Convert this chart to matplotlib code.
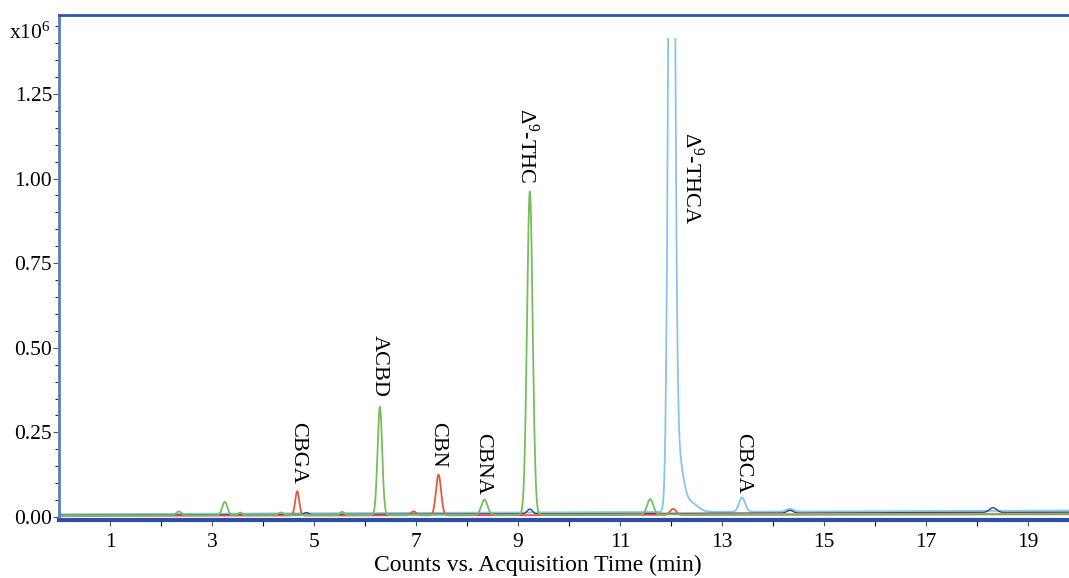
import numpy as np
import matplotlib
matplotlib.use("Agg")
import matplotlib.pyplot as plt
from matplotlib.patches import Rectangle
from matplotlib.ticker import MultipleLocator, FixedLocator

plt.rcParams['font.family'] = ['Liberation Serif', 'DejaVu Serif']
plt.rcParams['mathtext.fontset'] = 'custom'
plt.rcParams['mathtext.rm'] = 'Liberation Serif'
plt.rcParams['mathtext.it'] = 'Liberation Serif'

# ---- data (x10^6 counts, minutes) ----
green_rt = [2.35, 3.25, 3.55, 4.35, 5.55, 6.29, 8.34, 9.23, 11.59]
green_h = [0.012, 0.040, 0.008, 0.008, 0.010, 0.320, 0.045, 0.955, 0.045]
green_w = [0.05, 0.05, 0.04, 0.05, 0.04, 0.045, 0.06, 0.055, 0.06]

red_rt = [4.67, 6.95, 7.44, 12.04]
red_h = [0.072, 0.012, 0.120, 0.018]
red_w = [0.04, 0.05, 0.05, 0.06]

blue_rt = [12.01, 12.14, 12.35, 13.39, 14.33]
blue_h = [3.00, 0.150, 0.030, 0.042, 0.008]
blue_w = [0.055, 0.09, 0.15, 0.06, 0.07]

navy_rt = [4.85, 9.23, 14.33, 18.31]
navy_h = [0.006, 0.014, 0.008, 0.014]
navy_w = [0.04, 0.05, 0.06, 0.07]

baseline_t = [0.0, 19.8]
baseline_green = [0.004, 0.010]
baseline_red = [0.003, 0.008]
baseline_blue = [0.008, 0.019]
baseline_navy = [0.005, 0.014]

labels = ['CBGA', 'ACBD', 'CBN', 'CBNA', 'Δ$^9$-THC', 'Δ$^9$-THCA', 'CBCA']
label_x = [4.67, 6.27, 7.43, 8.30, 9.18, 12.41, 13.41]
label_y = [0.281, 0.538, 0.281, 0.248, 1.209, 1.138, 0.248]

y_ticks = [0.00, 0.25, 0.50, 0.75, 1.00, 1.25]
y_ticklabels = ['0.00', '0.25', '0.50', '0.75', '1.00', '1.25']
x_ticks = [1, 3, 5, 7, 9, 11, 13, 15, 17, 19]

t = np.linspace(0, 19.8, 8000)

def trace(rts, hs, ws, base):
    y = np.interp(t, baseline_t, base)
    for r, h, w in zip(rts, hs, ws):
        y = y + h * np.exp(-0.5 * ((t - r) / w) ** 2)
    return y

fig = plt.figure(figsize=(10.69, 5.78), dpi=100)
ax = fig.add_axes([0.0552, 0.1003, 0.9448, 0.8737])
ax.set_xlim(0, 19.8)
ax.set_ylim(-0.009, 1.483)

clip = Rectangle((0, -0.009), 19.8, 1.424, transform=ax.transData)

series = [
    (blue_rt, blue_h, blue_w, baseline_blue, '#86c6e8', 1.3),
    (navy_rt, navy_h, navy_w, baseline_navy, '#3c3c8c', 1.0),
    (red_rt, red_h, red_w, baseline_red, '#e8593c', 1.3),
    (green_rt, green_h, green_w, baseline_green, '#78bd5c', 1.3),
]
for rts, hs, ws, base, col, lw in series:
    ln, = ax.plot(t, trace(rts, hs, ws, base), color=col, lw=lw)
    ln.set_clip_path(clip)

for s, xv, yv in zip(labels, label_x, label_y):
    ax.text(xv, yv, s, rotation=-90, ha='center', va='top', fontsize=16)

ax.set_yticks(y_ticks)
ax.set_yticklabels(y_ticklabels)
ax.yaxis.set_minor_locator(MultipleLocator(0.05))
ax.set_xticks(x_ticks)
ax.set_xticklabels([str(v) for v in x_ticks])
ax.xaxis.set_minor_locator(FixedLocator([2, 4, 6, 8, 10, 12, 14, 16, 18]))
ax.tick_params(axis='both', labelsize=15.5, color='#555555', direction='out')
ax.tick_params(axis='y', which='major', length=4, width=0.8, pad=1)
ax.tick_params(axis='y', which='minor', length=3, width=0.6)
ax.tick_params(axis='x', which='major', length=4, width=0.8, pad=5)
ax.tick_params(axis='x', which='minor', length=4, width=0.8)

ax.spines['left'].set_color('#4f80c4')
ax.spines['left'].set_linewidth(2)
ax.spines['top'].set_color('#2f55a5')
ax.spines['top'].set_linewidth(2)
ax.spines['bottom'].set_color('#2e4fa8')
ax.spines['bottom'].set_linewidth(3)
ax.spines['right'].set_visible(False)

ax.set_xlabel('Counts vs. Acquisition Time (min)', fontsize=17)
ax.xaxis.set_label_coords(0.474, -0.068)
fig.text(0.008, 0.943, 'x10$^6$', fontsize=15.5, ha='left', va='center')

fig.savefig('out.png', dpi=100)
